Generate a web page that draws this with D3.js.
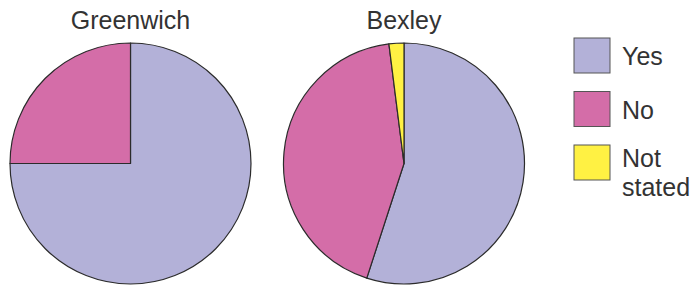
<!DOCTYPE html>
<html>
<head>
<meta charset="utf-8">
<script src="https://cdn.jsdelivr.net/npm/d3@7"></script>
<style>
  body { margin: 0; background: #fff; }
  text { font-family: "Liberation Sans", Arial, sans-serif; fill: #333; }
</style>
</head>
<body>
<div id="chart"></div>
<script>
var categories = ['Yes', 'No', 'Not stated'];
var boroughs = ['Greenwich', 'Bexley'];
var greenwichValues = [75, 25, 0];
var bexleyValues = [55, 43, 2];
var colours = ['#b3b1d8', '#d46da8', '#fff143'];

var w = 696, h = 286, r = 120.5;

var svg = d3.select('#chart')
  .append('svg')
  .attr('width', w)
  .attr('height', h);

var colour = d3.scaleOrdinal().domain(categories).range(colours);

var pie = d3.pie()
  .sort(null)
  .value(function(d) { return d.value; });

var arc = d3.arc()
  .innerRadius(0)
  .outerRadius(r);

var pieData = [greenwichValues, bexleyValues];
var centresX = [130.5, 404];
var cy = 163.5;

////////////////////////
// Draw pies
////////////////////////
pieData.forEach(function(values, p) {
  var rows = categories.map(function(c, i) { return { cat: c, value: values[i] }; });
  var g = svg.append('g')
    .attr('class', 'pie')
    .attr('transform', 'translate(' + centresX[p] + ',' + cy + ')');

  g.selectAll('path')
    .data(pie(rows).filter(function(d) { return d.data.value > 0; }))
    .enter().append('path')
    .attr('d', arc)
    .style('fill', function(d) { return colour(d.data.cat); })
    .style('stroke', '#2b2b2b')
    .style('stroke-width', 1.2)
    .style('stroke-linejoin', 'round');

  svg.append('text')
    .attr('x', centresX[p])
    .attr('y', 29)
    .attr('text-anchor', 'middle')
    .style('font-size', '25px')
    .text(boroughs[p]);
});

////////////////////////
// Legend
////////////////////////
var legend = svg.append('g')
  .attr('class', 'legend')
  .attr('transform', 'translate(574, 38)');

var item = legend.selectAll('g')
  .data(categories)
  .enter().append('g')
  .attr('transform', function(d, i) { return 'translate(0,' + (i * 53.5) + ')'; });

item.append('rect')
  .attr('width', 36)
  .attr('height', 35)
  .style('fill', function(d) { return colour(d); })
  .style('stroke', '#555')
  .style('stroke-width', 1);

item.append('text')
  .attr('x', 48)
  .attr('y', 27)
  .style('font-size', '25px')
  .each(function(d) {
    var words = d.split(' ');
    var t = d3.select(this);
    words.forEach(function(wd, k) {
      t.append('tspan')
        .attr('x', 48)
        .attr('dy', k === 0 ? (words.length > 1 ? -5 : 0) : 29)
        .text(wd);
    });
  });
</script>
</body>
</html>
